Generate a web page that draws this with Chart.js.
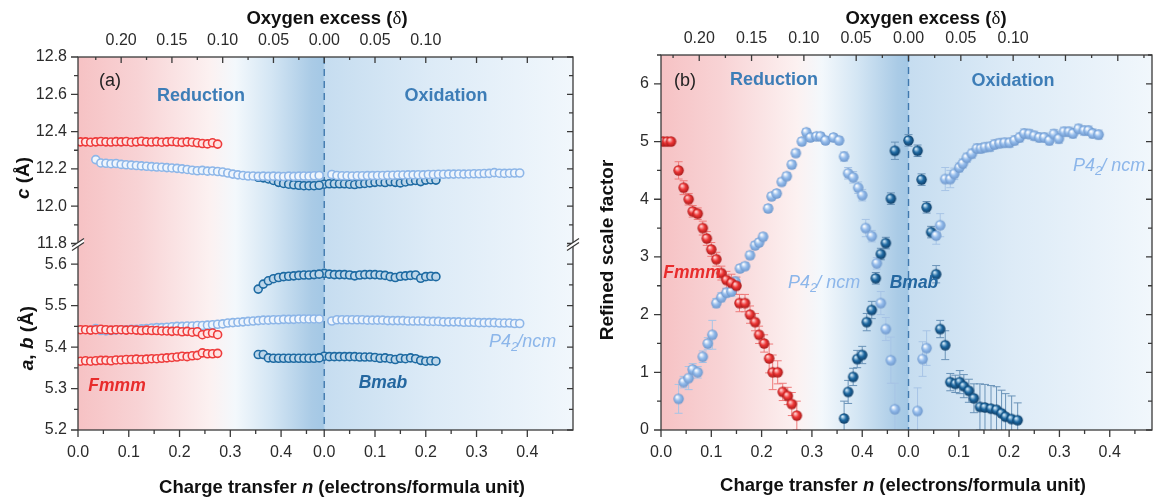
<!DOCTYPE html>
<html>
<head>
<meta charset="utf-8">
<script src="https://cdn.jsdelivr.net/npm/chart.js@4.4.1/dist/chart.umd.min.js"></script>
<style>
body{margin:0;background:#fff;width:1158px;height:504px;overflow:hidden;position:relative}
canvas{position:absolute;top:0}
#ca{left:0}
#cb{left:580px}
</style>
</head>
<body>
<canvas id="ca" width="580" height="504"></canvas>
<canvas id="cb" width="578" height="504"></canvas>
<script>
// ---------- panel (a): lattice parameters ----------
// x is the position on the charge transfer axis (oxidation side starts at the dashed line)
let aRedU = [0.005,0.015,0.025,0.035,0.045,0.055,0.065,0.075,0.085,0.095,0.105,0.115,0.125,0.135,0.145,0.155,0.165,0.175,0.185,0.195,0.205,0.215,0.225,0.235,0.245,0.255,0.265,0.275]
let aRedC = [12.345,12.345,12.343,12.345,12.347,12.345,12.344,12.346,12.345,12.347,12.343,12.345,12.348,12.345,12.344,12.346,12.343,12.345,12.347,12.344,12.342,12.345,12.343,12.340,12.336,12.334,12.340,12.333]
let aRedA = [5.442,5.442,5.441,5.442,5.443,5.442,5.441,5.442,5.442,5.441,5.442,5.441,5.440,5.441,5.440,5.440,5.439,5.439,5.438,5.439,5.437,5.438,5.436,5.437,5.430,5.433,5.434,5.430]
let aRedB = [5.366,5.367,5.366,5.367,5.368,5.368,5.367,5.369,5.369,5.370,5.370,5.371,5.370,5.371,5.372,5.372,5.373,5.374,5.375,5.376,5.378,5.377,5.379,5.380,5.386,5.384,5.384,5.385]

let aLightU = [0.035,0.045,0.055,0.065,0.075,0.085,0.095,0.105,0.115,0.125,0.135,0.145,0.155,0.165,0.175,0.185,0.195,0.205,0.215,0.225,0.235,0.245,0.255,0.265,0.275,0.285,0.295,0.305,0.315,0.325,0.335,0.345,0.355,0.365,0.375,0.385,0.395,0.405,0.415,0.425,0.435,0.445,0.455,0.465,0.475]
let aLightC = [12.250,12.232,12.230,12.228,12.229,12.224,12.222,12.220,12.218,12.216,12.214,12.212,12.210,12.209,12.207,12.205,12.203,12.200,12.197,12.193,12.190,12.192,12.188,12.189,12.186,12.183,12.178,12.172,12.168,12.165,12.162,12.162,12.160,12.161,12.160,12.161,12.160,12.159,12.161,12.160,12.161,12.162,12.161,12.163,12.165]
let aLightAB = [5.445,5.440,5.439,5.440,5.441,5.442,5.442,5.443,5.443,5.444,5.445,5.446,5.447,5.447,5.448,5.449,5.450,5.450,5.451,5.451,5.452,5.452,5.453,5.454,5.455,5.456,5.458,5.459,5.460,5.461,5.462,5.463,5.464,5.465,5.465,5.466,5.466,5.467,5.467,5.467,5.468,5.468,5.468,5.468,5.468]

let aLightOxU = [0.500,0.510,0.520,0.530,0.540,0.550,0.560,0.570,0.580,0.590,0.600,0.610,0.620,0.630,0.640,0.650,0.660,0.670,0.680,0.690,0.700,0.710,0.720,0.730,0.740,0.750,0.760,0.770,0.780,0.790,0.800,0.810,0.820,0.830,0.840,0.850,0.860,0.870]
let aLightOxC = [12.170,12.165,12.163,12.163,12.162,12.163,12.163,12.164,12.164,12.165,12.165,12.166,12.166,12.167,12.167,12.168,12.168,12.169,12.168,12.170,12.170,12.171,12.171,12.172,12.172,12.173,12.172,12.173,12.174,12.174,12.175,12.176,12.180,12.177,12.176,12.177,12.178,12.178]
let aLightOxAB = [5.463,5.466,5.466,5.466,5.466,5.466,5.466,5.465,5.465,5.465,5.465,5.464,5.464,5.464,5.464,5.463,5.463,5.463,5.463,5.462,5.462,5.462,5.461,5.461,5.461,5.461,5.460,5.460,5.460,5.459,5.459,5.459,5.459,5.458,5.458,5.458,5.457,5.457]

let aDarkU = [0.355,0.365,0.375,0.385,0.395,0.405,0.415,0.425,0.435,0.445,0.455,0.465,0.475]
let aDarkC = [12.155,12.152,12.146,12.138,12.128,12.122,12.118,12.115,12.112,12.110,12.110,12.110,12.112]
let aDarkB = [5.540,5.552,5.560,5.565,5.568,5.570,5.571,5.572,5.573,5.574,5.574,5.575,5.576]
let aDarkA = [5.382,5.382,5.374,5.373,5.373,5.373,5.373,5.373,5.373,5.373,5.373,5.373,5.374]

let aDarkOxU = [0.485,0.495,0.505,0.515,0.525,0.535,0.545,0.555,0.565,0.575,0.585,0.595,0.605,0.615,0.625,0.635,0.645,0.655,0.665,0.675,0.685,0.695,0.705]
let aDarkOxC = [12.118,12.120,12.120,12.120,12.120,12.118,12.116,12.120,12.122,12.125,12.128,12.130,12.127,12.132,12.128,12.125,12.130,12.135,12.138,12.132,12.140,12.142,12.140]
let aDarkOxB = [5.578,5.576,5.575,5.575,5.575,5.574,5.572,5.574,5.575,5.575,5.575,5.574,5.573,5.570,5.568,5.571,5.572,5.573,5.574,5.566,5.570,5.571,5.570]
let aDarkOxA = [5.378,5.377,5.377,5.377,5.377,5.377,5.377,5.376,5.376,5.376,5.375,5.373,5.374,5.372,5.370,5.373,5.372,5.374,5.372,5.368,5.366,5.367,5.366]

// ---------- panel (b): refined scale factor ----------
let bRedU = [0.004,0.012,0.020,0.035,0.045,0.055,0.063,0.073,0.083,0.091,0.100,0.110,0.120,0.130,0.140,0.150,0.156,0.167,0.177,0.187,0.195,0.205,0.215,0.222,0.232,0.242,0.252,0.260,0.270]
let bRedV = [5.0,5.0,5.0,4.5,4.2,4.0,3.79,3.75,3.5,3.32,3.13,2.96,2.72,2.6,2.55,2.5,2.2,2.2,2.0,1.87,1.65,1.5,1.24,1.0,1.0,0.66,0.59,0.45,0.25]
let bRedE = [0.03,0.03,0.03,0.15,0.12,0.1,0.1,0.1,0.12,0.12,0.12,0.12,0.12,0.15,0.15,0.15,0.15,0.15,0.15,0.15,0.15,0.15,0.25,0.3,0.2,0.15,0.15,0.2,0.25]

let bLightU = [0.035,0.045,0.055,0.063,0.073,0.083,0.093,0.102,0.110,0.120,0.130,0.140,0.148,0.157,0.167,0.177,0.187,0.195,0.203,0.213,0.220,0.230,0.240,0.250,0.260,0.268,0.280,0.289,0.297,0.309,0.317,0.327,0.343,0.354,0.364,0.372,0.382,0.392,0.400,0.407,0.419,0.429,0.437,0.447,0.457,0.465]
let bLightV = [0.54,0.83,0.9,1.05,1.0,1.27,1.5,1.65,2.2,2.3,2.38,2.4,2.57,2.8,2.84,3.03,3.2,3.25,3.35,3.84,4.05,4.1,4.3,4.4,4.6,4.8,5.0,5.16,5.07,5.09,5.09,5.02,5.07,5.02,4.74,4.45,4.38,4.2,4.07,3.5,3.36,2.89,2.2,1.75,1.21,0.36]
let bLightE = [0.25,0.1,0.2,0.1,0.1,0.1,0.1,0.25,0.08,0.08,0.08,0.08,0.08,0.06,0.06,0.06,0.06,0.06,0.06,0.06,0.06,0.06,0.06,0.06,0.06,0.06,0.06,0.06,0.06,0.06,0.06,0.06,0.06,0.06,0.08,0.1,0.1,0.1,0.1,0.15,0.1,0.1,0.2,0.2,0.4,0.45]

let bLightOxU = [0.510,0.520,0.528,0.547,0.555,0.565,0.575,0.583,0.593,0.600,0.608,0.618,0.628,0.636,0.644,0.654,0.663,0.673,0.683,0.693,0.703,0.713,0.722,0.732,0.742,0.752,0.762,0.772,0.781,0.791,0.801,0.811,0.819,0.830,0.841,0.850,0.858,0.870]
let bLightOxV = [0.33,1.23,1.42,3.37,3.55,4.35,4.35,4.44,4.55,4.62,4.72,4.79,4.88,4.88,4.9,4.91,4.95,4.97,4.98,4.98,5.02,5.07,5.14,5.13,5.1,5.07,5.07,5.02,5.13,5.05,5.17,5.17,5.14,5.22,5.19,5.19,5.14,5.12]
let bLightOxE = [0.4,0.3,0.3,0.15,0.2,0.2,0.15,0.1,0.08,0.08,0.08,0.08,0.08,0.08,0.08,0.08,0.08,0.08,0.08,0.08,0.08,0.08,0.08,0.08,0.08,0.08,0.08,0.08,0.08,0.08,0.08,0.08,0.08,0.08,0.08,0.08,0.08,0.08]

let bDarkU = [0.364,0.372,0.382,0.390,0.400,0.409,0.419,0.427,0.437,0.447,0.457,0.465,0.492,0.510,0.518,0.528,0.537,0.547,0.555,0.565,0.575,0.585,0.594,0.602,0.612,0.622,0.634,0.644,0.656,0.667,0.677,0.685,0.697,0.709]
let bDarkV = [0.2,0.66,0.92,1.23,1.3,1.87,2.08,2.63,3.05,3.24,4.01,4.84,5.02,4.84,4.34,3.86,3.43,2.7,1.75,1.47,0.83,0.8,0.83,0.76,0.68,0.55,0.4,0.39,0.37,0.35,0.29,0.23,0.19,0.17]
let bDarkE = [0.3,0.2,0.15,0.15,0.15,0.15,0.15,0.1,0.1,0.1,0.1,0.15,0.1,0.1,0.1,0.1,0.1,0.15,0.15,0.25,0.15,0.15,0.2,0.2,0.2,0.25,0.4,0.4,0.4,0.4,0.4,0.4,0.4,0.3]

// ---------- axis labels ----------
let nLabels = ['0.0','0.1','0.2','0.3','0.4']
let deltaLabels = [0.20,0.15,0.10,0.05,0.00,0.05,0.10]
let deltaSide = [-1,-1,-1,-1,0,1,1]
let cTicks = [11.8,12.0,12.2,12.4,12.6,12.8]
let abTicks = [5.2,5.3,5.4,5.5,5.6]
let sTicks = [0,1,2,3,4,5,6]

const RED = '#ee3b3b', DARK = '#1d6aa2', LIGHT = '#8db6e8'
const FF = "'Liberation Sans', Arial, sans-serif"
const TICKC = '#2b2b2b'

function pts(u, v){ return u.map((x,i) => ({x:x, y:v[i]})) }

function sphere(light, base, dark, r){
    let c = document.createElement('canvas')
    let s = Math.ceil(r*2 + 2)
    c.width = s; c.height = s
    let g = c.getContext('2d'), m = s/2
    let gr = g.createRadialGradient(m - r*0.35, m - r*0.4, r*0.1, m, m, r)
    gr.addColorStop(0, light); gr.addColorStop(0.5, base); gr.addColorStop(1, dark)
    g.fillStyle = gr
    g.beginPath(); g.arc(m, m, r, 0, Math.PI*2); g.fill()
    return c
}

function drawRuns(ctx, parts, x, y, align, color){
    let w = 0
    parts.forEach(p => { ctx.font = p.f; w += ctx.measureText(p.t).width + (p.dx || 0) })
    let cx = align === 'center' ? x - w/2 : x
    ctx.textAlign = 'left'; ctx.textBaseline = 'middle'; ctx.fillStyle = color
    parts.forEach(p => {
        ctx.font = p.f
        ctx.fillText(p.t, cx, y + (p.dy || 0))
        cx += ctx.measureText(p.t).width + (p.dx || 0)
    })
}

const B18 = "bold 18.5px " + FF, BI18 = "italic bold 18.5px " + FF
const B19 = "bold 19px " + FF, BI19 = "italic bold 19px " + FF
const ANN = "bold 18px " + FF, ANNI = "italic bold 17.5px " + FF
const PI18 = "italic 18px " + FF, PI12 = "italic 13px " + FF

function oxyTitle(){ return [{t:'Oxygen excess (', f:B18}, {t:'\u03b4', f:"19px 'Liberation Serif', serif"}, {t:')', f:B18}] }
function nTitle(){ return [{t:'Charge transfer ', f:B18}, {t:'n', f:BI18}, {t:' (electrons/formula unit)', f:B18}] }
function p42(sp){ return [{t:'P4', f:PI18}, {t:'2', f:PI12, dy:5, dx:-1}, {t:'/' + sp + 'ncm', f:PI18}] }

// decorations: background, dashed line, error bars, frame, ticks, texts
function deco(cfg){
    return {
        id: 'deco',
        beforeDatasetsDraw(chart){
            let ctx = chart.ctx, a = chart.chartArea, x = chart.scales.x
            ctx.save()
            let g = ctx.createLinearGradient(a.left, 0, a.right, 0)
            cfg.bg.forEach(s => {
                let f = (x.getPixelForValue(s[0]) - a.left) / (a.right - a.left)
                g.addColorStop(Math.min(1, Math.max(0, f)), s[1])
            })
            ctx.fillStyle = g
            ctx.fillRect(a.left, a.top, a.width, a.height)
            // dashed line at n = 0
            let px = x.getPixelForValue(cfg.u0)
            ctx.strokeStyle = '#3f78ad'; ctx.lineWidth = 1.4; ctx.setLineDash([7,5])
            ctx.beginPath(); ctx.moveTo(px, a.top); ctx.lineTo(px, a.bottom); ctx.stroke()
            ctx.setLineDash([])
            // error bars
            ctx.beginPath(); ctx.rect(a.left, a.top, a.width, a.height); ctx.clip()
            chart.data.datasets.forEach((ds, i) => {
                if(!ds.errs) return
                let meta = chart.getDatasetMeta(i), ys = chart.scales[meta.yAxisID]
                ctx.strokeStyle = ds.errColor; ctx.lineWidth = 1
                meta.data.forEach((el, j) => {
                    let v = ds.data[j].y, e = ds.errs[j]
                    let y1 = ys.getPixelForValue(v + e), y2 = ys.getPixelForValue(v - e)
                    ctx.beginPath()
                    ctx.moveTo(el.x, y1); ctx.lineTo(el.x, y2)
                    ctx.moveTo(el.x - 4, y1); ctx.lineTo(el.x + 4, y1)
                    ctx.moveTo(el.x - 4, y2); ctx.lineTo(el.x + 4, y2)
                    ctx.stroke()
                })
            })
            ctx.restore()
        },
        afterDraw(chart){
            let ctx = chart.ctx, a = chart.chartArea, x = chart.scales.x
            ctx.save()
            ctx.strokeStyle = '#3a3a3a'; ctx.lineWidth = 1.3
            ctx.strokeRect(a.left, a.top, a.width, a.height)
            ctx.beginPath()
            cfg.xMaj.forEach(v => { let p = x.getPixelForValue(v); ctx.moveTo(p, a.bottom); ctx.lineTo(p, a.bottom + 7) })
            cfg.xMin.forEach(v => { let p = x.getPixelForValue(v); ctx.moveTo(p, a.bottom); ctx.lineTo(p, a.bottom + 4) })
            cfg.tMaj.forEach(v => { let p = x.getPixelForValue(v); ctx.moveTo(p, a.top); ctx.lineTo(p, a.top + 6) })
            cfg.tMin.forEach(v => { let p = x.getPixelForValue(v); ctx.moveTo(p, a.top); ctx.lineTo(p, a.top + 3) })
            cfg.ys.forEach(ya => {
                let s = chart.scales[ya.id]
                ya.maj.forEach(v => { let p = s.getPixelForValue(v); ctx.moveTo(a.left - 7, p); ctx.lineTo(a.left, p); ctx.moveTo(a.right, p); ctx.lineTo(a.right - 6, p) })
                ya.min.forEach(v => { let p = s.getPixelForValue(v); ctx.moveTo(a.left - 4, p); ctx.lineTo(a.left, p); ctx.moveTo(a.right, p); ctx.lineTo(a.right - 4, p) })
            })
            ctx.stroke()
            // axis break marks
            if(cfg.breakId){
                let yb = chart.scales[cfg.breakId].bottom
                ;[a.left, a.right].forEach(bx => {
                    ctx.fillStyle = '#fff'
                    ctx.beginPath()
                    ctx.moveTo(bx - 6, yb + 3); ctx.lineTo(bx + 6, yb - 5); ctx.lineTo(bx + 6, yb - 1); ctx.lineTo(bx - 6, yb + 7)
                    ctx.closePath(); ctx.fill()
                    ctx.beginPath()
                    ctx.moveTo(bx - 6, yb + 3); ctx.lineTo(bx + 6, yb - 5)
                    ctx.moveTo(bx - 6, yb + 7); ctx.lineTo(bx + 6, yb - 1)
                    ctx.stroke()
                })
            }
            cfg.texts.forEach(t => {
                if(t.rot){
                    ctx.save(); ctx.translate(t.x, t.y); ctx.rotate(-Math.PI/2)
                    drawRuns(ctx, t.parts, 0, 0, 'center', t.c)
                    ctx.restore()
                } else {
                    drawRuns(ctx, t.parts, t.x, t.y, t.align || 'center', t.c)
                }
            })
            ctx.restore()
        }
    }
}

function xScales(u0, k, xmax, topH){
    let botPos = nLabels.map(s => parseFloat(s)).concat(nLabels.map(s => u0 + parseFloat(s)))
    let botLab = nLabels.concat(nLabels)
    let topPos = deltaLabels.map((d, i) => u0 + deltaSide[i]*d*k)
    let topLab = deltaLabels.map(d => d.toFixed(2))
    let font = {family: FF, size: 16}
    return {
        x: {type:'linear', position:'bottom', min:0, max:xmax,
            grid:{display:false, drawTicks:false}, border:{display:false},
            afterBuildTicks: s => { s.ticks = botPos.map(v => ({value:v})) },
            afterFit: s => { s.height = 74 },
            ticks:{autoSkip:false, maxRotation:0, padding:13, color:TICKC, font:font, callback:(v,i) => botLab[i]}},
        xt: {type:'linear', position:'top', min:0, max:xmax,
            grid:{display:false, drawTicks:false}, border:{display:false},
            afterBuildTicks: s => { s.ticks = topPos.map(v => ({value:v})) },
            afterFit: s => { s.height = topH },
            ticks:{autoSkip:false, maxRotation:0, padding:7, color:TICKC, font:font, callback:(v,i) => topLab[i]}}
    }
}

function tickCfg(u0, k){
    let xMaj = [], xMin = [], tMaj = [], tMin = []
    nLabels.forEach(s => { let v = parseFloat(s); xMaj.push(v, u0 + v); xMin.push(v + 0.05, u0 + v + 0.05) })
    for(let m = -9; m <= 9; m++){ (m % 2 === 0 ? tMaj : tMin).push(u0 + m*0.025*k) }
    return {xMaj, xMin, tMaj, tMin}
}

function yAxis(min, max, ticks, stack, w, pad, dec){
    let o = {type:'linear', position:'left', min:min, max:max,
        grid:{display:false, drawTicks:false}, border:{display:false},
        afterBuildTicks: s => { s.ticks = ticks.map(v => ({value:v})) },
        afterFit: s => { s.width = w },
        ticks:{padding:pad, color:TICKC, font:{family:FF, size:16},
            callback: v => v.toFixed(dec)}}
    if(stack){ o.stack = stack; o.stackWeight = 1 }
    return o
}

function ring(u, v, col, fill, yid){
    return {data: pts(u, v), yAxisID: yid, xAxisID: 'x', pointRadius: 4, pointBorderWidth: 1.6,
        pointBorderColor: col, pointBackgroundColor: fill}
}

// ---------- chart (a) ----------
const U0A = 0.485, KA = 2.0
let ta = tickCfg(U0A, KA)
let halfTicks = v => v.slice(0, -1).map((t, i) => (t + v[i+1]) / 2)

new Chart(document.getElementById('ca'), {
    type: 'scatter',
    data: {datasets: [
        ring(aRedU, aRedC, RED, '#ffe3e3', 'yc'),
        ring(aRedU, aRedA, RED, '#ffe3e3', 'yab'),
        ring(aRedU, aRedB, RED, '#ffe3e3', 'yab'),
        ring(aLightU, aLightC, LIGHT, '#eef5fd', 'yc'),
        ring(aLightOxU, aLightOxC, LIGHT, '#eef5fd', 'yc'),
        ring(aLightU, aLightAB, LIGHT, '#eef5fd', 'yab'),
        ring(aLightOxU, aLightOxAB, LIGHT, '#eef5fd', 'yab'),
        ring(aDarkU, aDarkC, DARK, '#bcd6ea', 'yc'),
        ring(aDarkOxU, aDarkOxC, DARK, '#bcd6ea', 'yc'),
        ring(aDarkU, aDarkB, DARK, '#bcd6ea', 'yab'),
        ring(aDarkOxU, aDarkOxB, DARK, '#bcd6ea', 'yab'),
        ring(aDarkU, aDarkA, DARK, '#bcd6ea', 'yab'),
        ring(aDarkOxU, aDarkOxA, DARK, '#bcd6ea', 'yab')
    ]},
    options: {
        responsive: false, devicePixelRatio: 1, animation: false, events: [],
        layout: {padding: {left: 0, right: 7, top: 0, bottom: 0}},
        plugins: {legend: {display: false}, tooltip: {enabled: false}},
        scales: Object.assign(xScales(U0A, KA, 0.975, 57), {
            yab: yAxis(5.2, 5.65, abTicks, 'left', 78, 11, 1),
            yc: yAxis(11.8, 12.8, cTicks, 'left', 78, 11, 1)
        })
    },
    plugins: [deco({
        u0: U0A, xMaj: ta.xMaj, xMin: ta.xMin, tMaj: ta.tMaj, tMin: ta.tMin, breakId: 'yc',
        ys: [{id:'yc', maj:cTicks, min:halfTicks(cTicks)}, {id:'yab', maj:abTicks, min:halfTicks(abTicks).concat([5.65])}],
        bg: [[0,'#f6c2c4'],[0.12,'#f8d3d5'],[0.26,'#fcf1f1'],[0.31,'#f3f8fc'],[0.38,'#d4e6f4'],[0.46,'#aacbe6'],[U0A-0.002,'#a4c8e5'],[U0A+0.002,'#c6ddf0'],[0.7,'#ddebf7'],[0.975,'#f1f7fc']],
        texts: [
            {parts: oxyTitle(), x: 327, y: 19, c: '#111'},
            {parts: nTitle(), x: 342, y: 488, c: '#111'},
            {parts: [{t:'c', f:BI19}, {t:' (\u00c5)', f:B19}], x: 24, y: 178, rot: true, c: '#111'},
            {parts: [{t:'a', f:BI19}, {t:', ', f:B19}, {t:'b', f:BI19}, {t:' (\u00c5)', f:B19}], x: 28, y: 338, rot: true, c: '#111'},
            {parts: [{t:'(a)', f:"18px " + FF}], x: 110, y: 81, c: '#222'},
            {parts: [{t:'Reduction', f:ANN}], x: 201, y: 96, c: '#3d7db7'},
            {parts: [{t:'Oxidation', f:ANN}], x: 446, y: 96, c: '#3d7db7'},
            {parts: [{t:'Fmmm', f:ANNI}], x: 117, y: 386, c: '#e82c2c'},
            {parts: [{t:'Bmab', f:ANNI}], x: 383, y: 383, c: '#2467a0'},
            {parts: p42(''), x: 489, y: 342, align: 'left', c: '#8cb6ea'}
        ]
    })]
})

// ---------- chart (b) ----------
const U0B = 0.492, KB = 2.08
let tb = tickCfg(U0B, KB)
let redS = sphere('#ffd6d6', '#ee3636', '#a81a1a', 5.2)
let lightS = sphere('#ffffff', '#94bcec', '#6f98cc', 5.2)
let darkS = sphere('#d6ecfa', '#1f6aa3', '#0f3f68', 5.2)

function ball(u, v, e, img, ec){
    return {data: pts(u, v), errs: e, errColor: ec, xAxisID: 'x', yAxisID: 'y', pointStyle: img, pointRadius: 5}
}

new Chart(document.getElementById('cb'), {
    type: 'scatter',
    data: {datasets: [
        ball(bRedU, bRedV, bRedE, redS, '#ee7a7a'),
        ball(bLightU, bLightV, bLightE, lightS, '#a7c4e6'),
        ball(bLightOxU, bLightOxV, bLightOxE, lightS, '#a7c4e6'),
        ball(bDarkU, bDarkV, bDarkE, darkS, '#6a93b8')
    ]},
    options: {
        responsive: false, devicePixelRatio: 1, animation: false, events: [],
        layout: {padding: {left: 0, right: 1, top: 0, bottom: 0}},
        plugins: {legend: {display: false}, tooltip: {enabled: false}},
        scales: Object.assign(xScales(U0B, KB, 0.976, 55), {
            y: yAxis(0, 6.5, sTicks, null, 81, 12, 0)
        })
    },
    plugins: [deco({
        u0: U0B, xMaj: tb.xMaj, xMin: tb.xMin, tMaj: tb.tMaj, tMin: tb.tMin, breakId: null,
        ys: [{id:'y', maj:sTicks, min:halfTicks(sTicks).concat([6.5])}],
        bg: [[0,'#f6c2c4'],[0.12,'#f8d3d5'],[0.27,'#fcf1f1'],[0.32,'#f3f8fc'],[0.39,'#d4e6f4'],[0.47,'#aacbe6'],[U0B-0.002,'#a4c8e5'],[U0B+0.002,'#c6ddf0'],[0.7,'#ddebf7'],[0.976,'#f1f7fc']],
        texts: [
            {parts: oxyTitle(), x: 346, y: 19, c: '#111'},
            {parts: nTitle(), x: 323, y: 486, c: '#111'},
            {parts: [{t:'Refined scale factor', f:B19}], x: 28, y: 250, rot: true, c: '#111'},
            {parts: [{t:'(b)', f:"18px " + FF}], x: 105, y: 81, c: '#222'},
            {parts: [{t:'Reduction', f:ANN}], x: 194, y: 80, c: '#3d7db7'},
            {parts: [{t:'Oxidation', f:ANN}], x: 433, y: 81, c: '#3d7db7'},
            {parts: [{t:'Fmmm', f:ANNI}], x: 112, y: 273, c: '#e82c2c'},
            {parts: p42(' '), x: 208, y: 283, align: 'left', c: '#8cb6ea'},
            {parts: [{t:'Bmab', f:ANNI}], x: 334, y: 283, c: '#2467a0'},
            {parts: p42(' '), x: 493, y: 166, align: 'left', c: '#8cb6ea'}
        ]
    })]
})
</script>
</body>
</html>
